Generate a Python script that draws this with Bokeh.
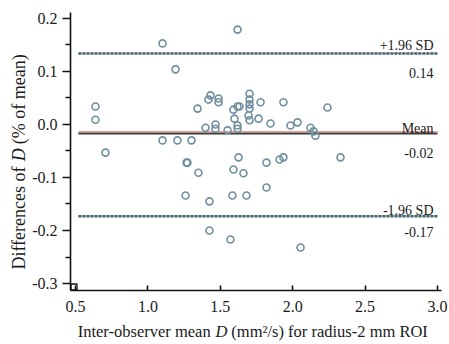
from bokeh.plotting import figure
from bokeh.models import (Label, FixedTicker, Range1d, LinearAxis,
                          PrintfTickFormatter, CustomJSTickFormatter)
from bokeh.embed import file_html
from bokeh.resources import INLINE

# ---- data ----
mean_d = [0.638, 0.638, 0.707, 1.101, 1.191, 1.101, 1.204, 1.301, 1.267, 1.273,
          1.343, 1.349, 1.260, 1.425, 1.425, 1.398, 1.418, 1.432, 1.467, 1.467,
          1.488, 1.488, 1.550, 1.591, 1.598, 1.619, 1.633, 1.619, 1.619, 1.619,
          1.626, 1.591, 1.660, 1.584, 1.681, 1.570, 1.702, 1.702, 1.702, 1.702,
          1.695, 1.702, 1.764, 1.778, 1.819, 1.819, 1.847, 1.909, 1.936, 1.936,
          1.985, 2.033, 2.123, 2.144, 2.157, 2.240, 2.330, 2.054]
diff_d = [0.034, 0.009, -0.053, 0.153, 0.104, -0.030, -0.030, -0.030, -0.072, -0.072,
          0.030, -0.091, -0.134, -0.145, -0.200, -0.006, 0.047, 0.055, 0.000, -0.008,
          0.049, 0.042, -0.011, 0.028, 0.011, 0.034, 0.034, -0.002, -0.008, 0.179,
          -0.062, -0.085, -0.092, -0.134, -0.134, -0.217, 0.058, 0.047, 0.038, 0.030,
          0.017, 0.008, 0.011, 0.042, -0.072, -0.119, 0.002, -0.066, -0.062, 0.042,
          -0.002, 0.004, -0.006, -0.013, -0.021, 0.032, -0.062, -0.232]

upper_loa = 0.134
mean_diff = -0.017
lower_loa = -0.173
limit_names = ["+1.96 SD", "Mean", "-1.96 SD"]
limit_values_text = ["0.14", "-0.02", "-0.17"]
line_x = [0.52, 3.0]

x_ticks = [0.5, 1.0, 1.5, 2.0, 2.5, 3.0]
y_ticks = [-0.3, -0.2, -0.1, 0.0, 0.1, 0.2]
y_minor = [-0.25, -0.15, -0.05, 0.05, 0.15]
x_title_parts = ["Inter-observer mean ", "D", " (mm\u00b2/s) for radius-2 mm ROI"]
y_title_parts = ["Differences of ", "D", " (% of mean)"]

# ---- layout helpers (page pixels) ----
PX_X = 144.8   # pixels per x unit
PX_Y = 530.0   # pixels per y unit
x0, x1 = 0.4655, 3.0276
y0, y1 = -0.3132, 0.2113

def xd(px):      # page x -> data x
    return 0.5 + (px - 75) / PX_X

def yd(py):      # page y -> data y
    return (124 - py) / PX_Y

FONT = "Liberation Serif"
TXT = "#1a1a1a"
AX = "#111111"

p = figure(width=449, height=344, output_backend="svg", toolbar_location=None,
           x_range=Range1d(x0, x1), y_range=Range1d(y0, y1),
           min_border_left=70, min_border_right=8, min_border_top=12, min_border_bottom=54)
p.outline_line_color = None
p.xgrid.visible = False
p.ygrid.visible = False
p.background_fill_color = "white"

# main axes
xa = p.xaxis[0]
xa.ticker = FixedTicker(ticks=x_ticks)
xa.formatter = PrintfTickFormatter(format="%.1f")
xa.major_tick_in = 5
xa.major_tick_out = 0
xa.minor_tick_line_color = None
xa.axis_line_width = 1.6
xa.major_tick_line_width = 1.6
xa.major_label_text_font = FONT
xa.major_label_text_font_size = "16px"
xa.major_label_text_color = TXT
xa.major_label_standoff = 10
xa.axis_line_color = AX
xa.major_tick_line_color = AX

ya = p.yaxis[0]
ya.ticker = FixedTicker(ticks=y_ticks, minor_ticks=y_minor)
ya.formatter = PrintfTickFormatter(format="%.1f")
ya.major_tick_in = 0
ya.major_tick_out = 8
ya.minor_tick_in = 0
ya.minor_tick_out = 5
ya.axis_line_width = 1.6
ya.major_tick_line_width = 1.6
ya.minor_tick_line_width = 1.4
ya.major_label_text_font = FONT
ya.major_label_text_font_size = "16px"
ya.major_label_text_color = TXT
ya.major_label_standoff = 5
ya.axis_line_color = AX
ya.major_tick_line_color = AX
ya.minor_tick_line_color = AX


def label_axis(positions, texts, style, size, standoff, vertical=False):
    ax = LinearAxis(ticker=FixedTicker(ticks=positions),
                    formatter=CustomJSTickFormatter(args=dict(labels=texts),
                                                    code="return labels[index]"),
                    axis_line_color=None, major_tick_line_color=None,
                    minor_tick_line_color=None, major_tick_in=0, major_tick_out=0,
                    major_label_standoff=standoff,
                    major_label_text_font=FONT, major_label_text_font_style=style,
                    major_label_text_font_size=f"{size}px", major_label_text_color=TXT)
    if vertical:
        ax.major_label_orientation = "vertical"
    return ax

# ---- x title: normal pieces, then italic D pulled back into the same row ----
tfs = 16.5
wx = [8.33 * tfs, 0.722 * tfs + 1.0, 12.16 * tfs]
sx = 77.0
cx1 = sx + wx[0] / 2
cxd = sx + wx[0] + wx[1] / 2
cx3 = sx + wx[0] + wx[1] + wx[2] / 2 + 3.5
p.add_layout(label_axis([xd(cx1), xd(cx3)], [x_title_parts[0], x_title_parts[2]],
                        "normal", tfs, 7), "below")
p.add_layout(label_axis([xd(cxd)], [x_title_parts[1]], "italic", tfs, -22), "below")

# ---- y title (rotated) ----
yfs = 18
wy = [6.0 * yfs, 0.722 * yfs + 1.0, 5.25 * yfs]
sy = 161 + sum(wy) / 2            # bottom end of the text (page y)
cy1 = sy - wy[0] / 2
cyd = sy - wy[0] - wy[1] / 2
cy3 = sy - wy[0] - wy[1] - wy[2] / 2 - 3.5
p.add_layout(label_axis([yd(cy1), yd(cy3)], [y_title_parts[0], y_title_parts[2]],
                        "normal", yfs, 0, vertical=True), "left")
p.add_layout(label_axis([yd(cyd)], [y_title_parts[1]], "italic", yfs, -23,
                        vertical=True), "left")

# limit lines
for val in (upper_loa, lower_loa):
    p.line(line_x, [val, val], line_color="#e9a7a0", line_width=1.2)
    p.line(line_x, [val, val], line_color="#3b6873", line_width=2.4, line_dash="3 1")
p.line(line_x, [mean_diff, mean_diff], line_color="#3c3c3c", line_width=2)
p.line(line_x, [mean_diff + 1.8 / PX_Y] * 2, line_color="#e07c6c", line_width=1.1)

# points
p.scatter(mean_d, diff_d, marker="circle", size=7, fill_color=None,
          line_color="#6f8fa0", line_width=1.6)

# small corner square
p.scatter([x0 + 3.5 / PX_X], [y0 + 3.5 / PX_Y], marker="square", size=6,
          fill_color=None, line_color=AX, line_width=1.3)

# limit annotations
x_right = xd(433)
name_off = [7.7, 5.0, 5.7]          # px above line
value_off = [-19.3, -19.0, -16.3]   # px below line
for nm, vt, val, no, vo in zip(limit_names, limit_values_text,
                               [upper_loa, mean_diff, lower_loa], name_off, value_off):
    p.add_layout(Label(x=x_right, y=val + no / PX_Y, text=nm, text_align="right",
                       text_baseline="alphabetic", text_font=FONT,
                       text_font_size="14px", text_color=TXT))
    p.add_layout(Label(x=x_right, y=val + vo / PX_Y, text=vt, text_align="right",
                       text_baseline="alphabetic", text_font=FONT,
                       text_font_size="14px", text_color=TXT))

open("out.html", "w").write(file_html(p, INLINE))
